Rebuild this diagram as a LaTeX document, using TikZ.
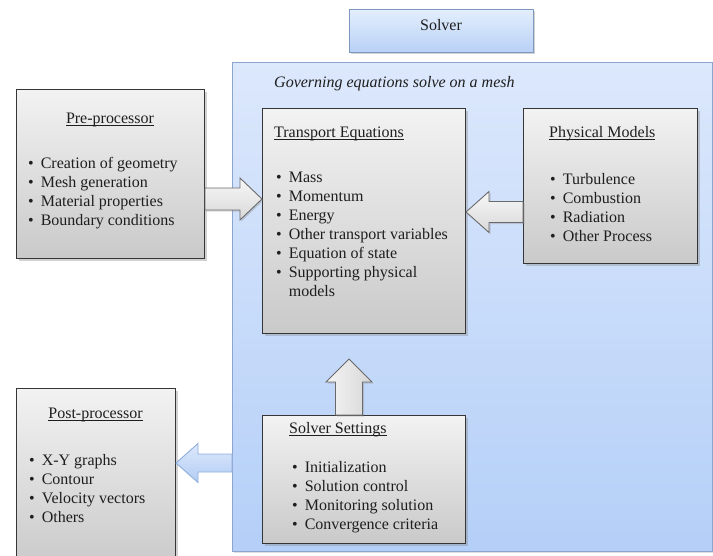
\documentclass[tikz,border=0pt]{standalone}
\usepackage{fontspec}
\setmainfont{Liberation Serif}
\usetikzlibrary{shadows,calc}
\definecolor{txt}{HTML}{1E1E1E}
\definecolor{boxedge}{HTML}{363636}
\definecolor{contTop}{HTML}{DCE8FC}
\definecolor{contBot}{HTML}{B4CFF8}
\definecolor{contEdge}{HTML}{8AA5CE}
\definecolor{solTop}{HTML}{E4EEFD}
\definecolor{solBot}{HTML}{B8D1F6}
\definecolor{solEdge}{HTML}{7F98BF}
\definecolor{arrEdge}{HTML}{6A6A6A}
\definecolor{barrTop}{HTML}{DDE9FC}
\definecolor{barrBot}{HTML}{B2CCF4}
\definecolor{barrEdge}{HTML}{8FAEDC}
\newcommand\myul[1]{{\setbox0\hbox{#1}\rlap{\rule[-2.6pt]{\wd0}{0.6pt}}\box0}}
\newcommand\harr[6]{\path[#1] let \p1=(#2), \p2=(#3) in
  ({\x1},{\y2+#4}) -- ({\x2-(#6)},{\y2+#4}) -- ({\x2-(#6)},{\y2+#5}) -- ({\x2},{\y2}) --
  ({\x2-(#6)},{\y2-#5}) -- ({\x2-(#6)},{\y2-#4}) -- ({\x1},{\y2-#4}) -- cycle;}
\newcommand\varr[6]{\path[#1] let \p1=(#2), \p2=(#3) in
  ({\x2+#4},{\y1}) -- ({\x2+#4},{\y2-(#6)}) -- ({\x2+#5},{\y2-(#6)}) -- ({\x2},{\y2}) --
  ({\x2-#5},{\y2-(#6)}) -- ({\x2-#4},{\y2-(#6)}) -- ({\x2-#4},{\y1}) -- cycle;}
\tikzset{
  txtstyle/.style={inner sep=0pt, text=txt, font=\fontsize{16}{19}\selectfont},
  graybox/.style={draw=boxedge, line width=1pt, top color=gray!10, bottom color=gray!42,
    anchor=north west, inner sep=0pt,
    drop shadow={shadow xshift=2pt, shadow yshift=-2pt, opacity=0.35}},
  container/.style={draw=contEdge, line width=1pt, top color=contTop, bottom color=contBot,
    anchor=north west, inner sep=0pt,
    drop shadow={shadow xshift=1.5pt, shadow yshift=-1.5pt, opacity=0.25}},
  solverbox/.style={draw=solEdge, line width=0.9pt, top color=solTop, bottom color=solBot,
    anchor=north west, inner sep=0pt,
    drop shadow={shadow xshift=2pt, shadow yshift=-2pt, opacity=0.35}},
  grayarrow/.style={draw=arrEdge, line width=0.9pt, top color=gray!6, bottom color=gray!30,
    line join=miter, drop shadow={shadow xshift=1.5pt, shadow yshift=-1.5pt, opacity=0.3}},
  grayuparrow/.style={draw=arrEdge, line width=0.9pt, left color=gray!8, right color=gray!32,
    line join=miter, drop shadow={shadow xshift=1.5pt, shadow yshift=-1.5pt, opacity=0.3}},
  bluearrow/.style={draw=barrEdge, line width=0.9pt, top color=barrTop, bottom color=barrBot,
    line join=miter},
}
\begin{document}
\begin{tikzpicture}[x=1pt, y=-1pt]
\useasboundingbox (0,0) rectangle (713,555);
\clip (0,0) rectangle (713,555);
\fill[white] (0,0) rectangle (713,555);

% solver header
\node[solverbox, minimum width=184pt, minimum height=43pt] (solver) at (349,9) {};
\node[txtstyle, anchor=base] (solvertxt) at (441,30) {Solver};

% container
\node[container, minimum width=480pt, minimum height=489pt] (area) at (232,62) {};
\node[txtstyle, anchor=base west] (gov) at (274,87) {\itshape Governing equations solve on a mesh};

% boxes
\node[graybox, minimum width=188pt, minimum height=169pt] (pre) at (16,89) {};
\node[graybox, minimum width=203pt, minimum height=225pt] (trans) at (262,108) {};
\node[graybox, minimum width=174pt, minimum height=155pt] (phys) at (523,108) {};
\node[graybox, minimum width=159pt, minimum height=180pt] (post) at (16,388) {};
\node[graybox, minimum width=203pt, minimum height=128pt] (set) at (262,415) {};

% titles
\node[txtstyle, anchor=base] (pretitle) at (110,123) {\myul{Pre-processor}};
\node[txtstyle, anchor=base west] (transtitle) at (274,137) {\myul{Transport Equations}};
\node[txtstyle, anchor=base west] (phystitle) at (549,137) {\myul{Physical Models}};
\node[txtstyle, anchor=base] (posttitle) at (95.5,418) {\myul{Post-processor}};
\node[txtstyle, anchor=base west] (settitle) at (289,433) {\myul{Solver Settings}};

% lists
\node[txtstyle, anchor=base west] (prelist) at (28,168) {%
  \begin{tabular}[t]{@{}l@{\hspace{7pt}}l@{}}
  • & Creation of geometry\\ • & Mesh generation\\ • & Material properties\\ • & Boundary conditions
  \end{tabular}};
\node[txtstyle, anchor=base west] (translist) at (276,182) {%
  \begin{tabular}[t]{@{}l@{\hspace{7pt}}l@{}}
  • & Mass\\ • & Momentum\\ • & Energy\\ • & Other transport variables\\ • & Equation of state\\
  • & Supporting physical\\ & models
  \end{tabular}};
\node[txtstyle, anchor=base west] (physlist) at (550,184) {%
  \begin{tabular}[t]{@{}l@{\hspace{7pt}}l@{}}
  • & Turbulence\\ • & Combustion\\ • & Radiation\\ • & Other Process
  \end{tabular}};
\node[txtstyle, anchor=base west] (postlist) at (29,465) {%
  \begin{tabular}[t]{@{}l@{\hspace{7pt}}l@{}}
  • & X-Y graphs\\ • & Contour\\ • & Velocity vectors\\ • & Others
  \end{tabular}};
\node[txtstyle, anchor=base west] (setlist) at (292,472) {%
  \begin{tabular}[t]{@{}l@{\hspace{7pt}}l@{}}
  • & Initialization\\ • & Solution control\\ • & Monitoring solution\\ • & Convergence criteria
  \end{tabular}};

% arrows
\coordinate (y199) at (0,199);
\coordinate (y212) at (0,212);
\coordinate (y463) at (0,463);
\coordinate (x349) at (349,0);
\coordinate (a1tip) at (trans.west |- y199);
\coordinate (a2tip) at (trans.east |- y212);
\coordinate (a3tail) at (x349 |- set.north);
\coordinate (a3tip) at (349,359);
\coordinate (a4tip) at (post.east |- y463);
\harr{grayarrow}{pre.east}{a1tip}{11pt}{21pt}{22pt}
\harr{grayarrow}{phys.west}{a2tip}{10.5pt}{20.5pt}{-23pt}
\varr{grayuparrow}{a3tail}{a3tip}{13.5pt}{23pt}{23pt}
\harr{bluearrow}{area.west}{a4tip}{9pt}{19.5pt}{-22pt}
\end{tikzpicture}
\end{document}
